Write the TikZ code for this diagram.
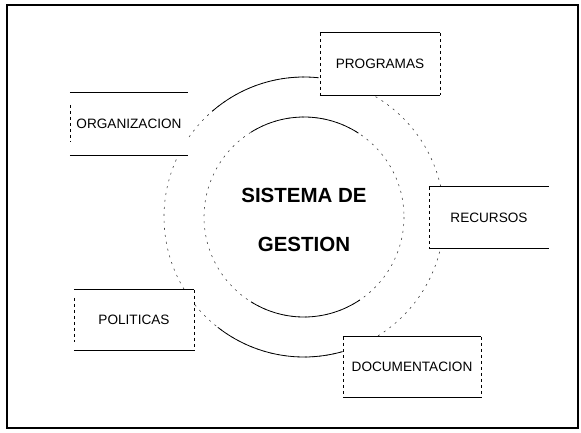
\documentclass[tikz,border=0pt]{standalone}
\usepackage{fontspec}
\setmainfont{Liberation Sans}
\begin{document}
\begin{tikzpicture}[x=1pt,y=-1pt,
  lbl/.style={font=\fontsize{13.6}{15}\selectfont},
  boxn/.style={fill=white, inner sep=0pt, lbl},
  solidedge/.style={line width=1.1pt},
  dashedge/.style={line width=0.6pt, dash pattern=on 3pt off 3pt},
  circdash/.style={line width=0.6pt, dash pattern=on 2pt off 5pt, black!75},
  circsolid/.style={line width=0.8pt},
  titlef/.style={font=\fontsize{20.5}{22}\selectfont\bfseries}]
\useasboundingbox (0,0) rectangle (581,432);
\draw[line width=1.5pt] (7,5) rectangle (578,428);
% outer circle
\draw[circdash] (304,217) circle[radius=140];
\draw[circsolid] ([shift={(-131:140)}]304,217) arc[start angle=-131, end angle=-84, radius=140];
\draw[circsolid] ([shift={(74:140)}]304,217) arc[start angle=74, end angle=128, radius=140];
% inner circle
\draw[circdash] (304,217) circle[radius=100];
\draw[circsolid] ([shift={(-122:100)}]304,217) arc[start angle=-122, end angle=-57, radius=100];
\draw[circsolid] ([shift={(56:100)}]304,217) arc[start angle=56, end angle=122, radius=100];
% title
\node[titlef] (t1) at (304,195) {SISTEMA DE};
\node[titlef] (t2) at (304,244) {GESTION};
% boxes
\node[boxn, minimum width=120, minimum height=62] (prog) at (380,64) {PROGRAMAS};
\draw[solidedge] (prog.north west) -- (prog.north east);
\draw[solidedge] (prog.south west) -- (prog.south east);
\draw[dashedge] (prog.north west) -- (prog.south west);
\draw[dashedge] (prog.north east) -- (prog.south east);
\node[boxn, minimum width=118, minimum height=62] (org) at (129,124) {ORGANIZACION};
\draw[solidedge] (org.north west) -- (org.north east);
\draw[solidedge] (org.south west) -- (org.south east);
\draw[dashedge] ([yshift=-12]org.north west) -- ([yshift=14]org.south west);
\node[boxn, minimum width=120, minimum height=61] (rec) at (489,217.5) {RECURSOS};
\draw[solidedge] (rec.north west) -- (rec.north east);
\draw[solidedge] (rec.south west) -- (rec.south east);
\draw[dashedge] (rec.north west) -- (rec.south west);
\node[boxn, minimum width=120, minimum height=60] (pol) at (134,320) {POLITICAS};
\draw[solidedge] (pol.north west) -- (pol.north east);
\draw[solidedge] (pol.south west) -- (pol.south east);
\draw[dashedge] ([yshift=-8]pol.north west) -- ([yshift=8]pol.south west);
\draw[dashedge] (pol.north east) -- (pol.south east);
\node[boxn, minimum width=138, minimum height=60] (doc) at (412,367) {DOCUMENTACION};
\draw[solidedge] (doc.north west) -- (doc.north east);
\draw[solidedge] (doc.south west) -- (doc.south east);
\draw[dashedge] (doc.north west) -- (doc.south west);
\draw[dashedge] (doc.north east) -- (doc.south east);
\end{tikzpicture}
\end{document}
